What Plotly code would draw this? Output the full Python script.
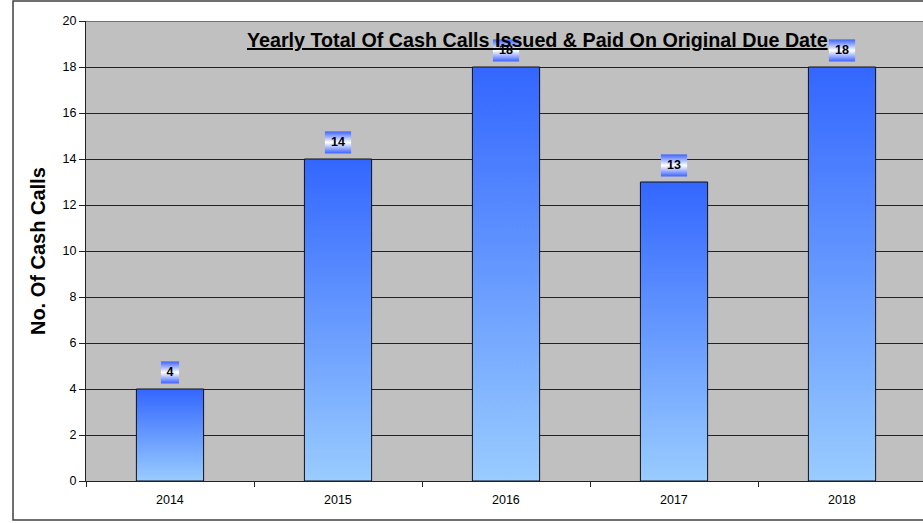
import plotly.graph_objects as go

years = ["2014", "2015", "2016", "2017", "2018"]
cash_calls = [4, 14, 18, 13, 18]
y_ticks = list(range(0, 21, 2))

title_text = "Yearly Total Of Cash Calls Issued & Paid On Original Due Date"
y_title = "No. Of Cash Calls"

BAR_W = 0.4
fig = go.Figure()

# bars as gradient-filled polygons
for i, v in enumerate(cash_calls):
    x0, x1 = i - BAR_W / 2, i + BAR_W / 2
    fig.add_trace(go.Scatter(
        x=[x0, x0, x1, x1, x0], y=[0, v, v, 0, 0],
        mode="lines", fill="toself",
        fillgradient=dict(type="vertical",
                          colorscale=[[0, "#99ccff"], [1, "#3366ff"]]),
        line=dict(color="#111111", width=1),
        hoverinfo="skip", showlegend=False))

# data label boxes
for i, v in enumerate(cash_calls):
    hw = 0.054 if v < 10 else 0.078
    b0, b1 = v + 0.24, v + 1.2
    fig.add_trace(go.Scatter(
        x=[i - hw, i - hw, i + hw, i + hw, i - hw], y=[b0, b1, b1, b0, b0],
        mode="lines", fill="toself",
        fillgradient=dict(type="vertical",
                          colorscale=[[0, "#3d63ff"], [0.5, "#ffffff"], [1, "#3d63ff"]]),
        line=dict(width=0),
        hoverinfo="skip", showlegend=False))

fig.add_trace(go.Scatter(
    x=list(range(len(years))), y=[v + 0.72 for v in cash_calls],
    mode="text", text=[str(v) for v in cash_calls],
    textfont=dict(family="Liberation Sans, Arial", size=12.5, color="black", weight="bold"),
    textposition="middle center", hoverinfo="skip", showlegend=False))

annotations = []
# x category labels
for i, yr in enumerate(years):
    annotations.append(dict(x=i, y=0, xref="x", yref="paper", text=yr,
                            showarrow=False, yanchor="top", yshift=-10,
                            font=dict(family="Liberation Sans, Arial", size=12.5, color="black")))
# title
annotations.append(dict(x=0.540, y=0.9585, xref="paper", yref="paper",
                        text="<u><b>" + title_text.replace("&", "&amp;") + "</b></u>",
                        showarrow=False, xanchor="center", yanchor="middle",
                        font=dict(family="Liberation Sans, Arial", size=19.7, color="black")))
# y axis title
annotations.append(dict(x=-0.0573, y=0.5, xref="paper", yref="paper",
                        text="<b>" + y_title + "</b>", textangle=-90,
                        showarrow=False, xanchor="center", yanchor="middle",
                        font=dict(family="Liberation Sans, Arial", size=20, color="black")))

fig.update_layout(
    width=923, height=523,
    margin=dict(l=86, r=0, t=21, b=42),
    paper_bgcolor="white", plot_bgcolor="#c0c0c0",
    xaxis=dict(range=[-0.5, 4.482], tickmode="array",
               tickvals=[k - 0.5 for k in range(len(years) + 1)],
               ticktext=["" for _ in range(len(years) + 1)],
               ticks="outside", ticklen=5, tickcolor="#222",
               showgrid=False, zeroline=False,
               showline=True, linecolor="#222", linewidth=1),
    yaxis=dict(range=[0, 20], tickmode="array", tickvals=y_ticks,
               ticks="outside", ticklen=6, tickcolor="#222",
               tickfont=dict(family="Liberation Sans, Arial", size=12.5, color="black"),
               showgrid=True, gridcolor="#222", gridwidth=1,
               zeroline=False, showline=True, linecolor="#222", linewidth=1),
    annotations=annotations,
    shapes=[dict(type="rect", xref="paper", yref="paper",
                 x0=-0.0872, x1=1.05, y0=-0.0848, y1=1.0435,
                 line=dict(color="#404040", width=1.5), layer="above"),
            dict(type="line", xref="paper", yref="y", x0=0, x1=1, y0=20, y1=20,
                 line=dict(color="#222", width=1), layer="below")],
)

fig.write_html("out.html",
               config={"displayModeBar": False, "staticPlot": True},
               post_script="document.body.style.margin='0';document.body.style.overflow='hidden';")
